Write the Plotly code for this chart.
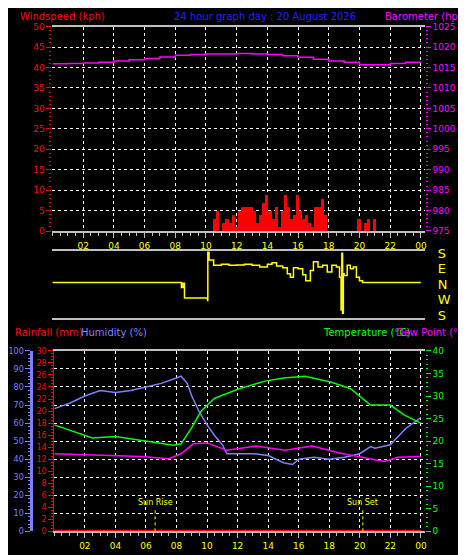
import plotly.graph_objects as go

# barometer, hourly (hpa)
baro_hours = list(range(25))
baro_hpa = [1015.9, 1016.0, 1016.1, 1016.3, 1016.6, 1016.9, 1017.2, 1017.6, 1018.0, 1018.2,
            1018.3, 1018.3, 1018.4, 1018.3, 1018.2, 1017.9, 1017.5, 1017.0, 1016.6, 1016.3,
            1015.7, 1015.7, 1016.0, 1016.3, 1016.4]

# windspeed bars, 0.2 h steps (kph)
wind_hours = [10.6 + 0.2 * i for i in range(37)] + [20.0, 20.2, 20.4, 20.6, 20.8, 21.0]
wind_kph = [3, 5, 0, 2, 3, 2, 4, 1, 5, 6, 6, 6, 6, 5, 2, 4, 7, 9, 5, 3, 6, 1, 5, 9,
            6, 3, 4, 9, 5, 3, 4, 2, 1, 6, 6, 8, 4, 3, 0, 2, 3, 0, 3]

# wind direction (degrees, N = 0, S = +/-180)
dir_hours = [0, 8.3, 8.4, 8.5, 8.6, 8.7, 10.1, 10.12, 10.2, 10.5, 11, 11.5, 12, 12.5, 13,
             13.5, 14, 14.3, 14.6, 15, 15.3, 15.5, 15.7, 16, 16.3, 16.5, 16.8, 17, 17.3,
             17.6, 17.9, 18.2, 18.5, 18.7, 18.8, 18.85, 18.9, 18.95, 19.0, 19.2, 19.4,
             19.6, 19.8, 20.0, 20.2, 24]
dir_deg = [10, 10, -20, 5, -80, -80, -95, 185, 140, 110, 115, 110, 112, 115, 110, 100,
           115, 125, 105, 95, 60, 40, 95, 90, 55, 20, 80, 130, 100, 110, 70, 110, 100,
           40, -150, 180, -170, 60, 50, 110, 90, 100, 40, 20, 10, 10]

# humidity (%)
hum_hours = [0, 1, 2, 3, 4, 5, 6, 7, 8, 8.3, 8.7, 9, 9.5, 10, 10.5, 11, 11.3, 12, 13, 14,
             15, 15.6, 16, 17, 18, 19, 20, 20.7, 21, 22, 23, 24]
hum_pct = [68, 71, 75, 78, 77, 78, 80, 82, 85, 86, 82, 75, 66, 59, 53, 48, 43, 43, 43, 42,
           38, 37, 40, 41, 40, 41, 43, 47, 46, 48, 57, 63]

# temperature and dew point (C)
temp_hours = [0, 1.4, 2.5, 4.0, 5.7, 7.0, 7.8, 8.3, 9.0, 9.6, 10.5, 12.1, 13.8, 15.0,
              16.4, 18.1, 19.4, 20.7, 22.0, 22.9, 24]
temp_c = [23.6, 21.9, 20.7, 21.0, 20.2, 19.6, 19.1, 19.4, 23.0, 26.6, 29.5, 31.6, 33.3,
          34.0, 34.4, 33.1, 31.6, 28.0, 28.0, 25.8, 24.0]
dew_hours = [0, 4.0, 5.7, 7.5, 8.3, 9.1, 10.0, 11.3, 13.2, 15.1, 16.9, 18.6, 20.7, 21.6,
             22.5, 24]
dew_c = [17.2, 16.8, 16.6, 16.1, 17.2, 19.4, 19.6, 18.0, 18.9, 18.0, 18.9, 17.4, 16.0,
         15.5, 16.4, 16.6]

rain_hours = [0, 24]
rain_mm = [0, 0]

tick_hours = list(range(2, 25, 2))
tick_text = ['%02d' % (h % 24) for h in tick_hours]
sun_rise, sun_set = 6.6, 20.2

FONT = 'DejaVu Sans'
fig = go.Figure()
fig.add_trace(go.Scatter(x=baro_hours, y=baro_hpa, mode='lines', line=dict(color='#ff00ff', width=1.5),
                         line_shape='hv', xaxis='x', yaxis='y2'))
fig.add_trace(go.Bar(x=wind_hours, y=wind_kph, width=0.2, marker=dict(color='#ff0000', line_width=0),
                     xaxis='x', yaxis='y'))
fig.add_trace(go.Scatter(x=dir_hours, y=dir_deg, mode='lines', line=dict(color='#ffff00', width=1.5),
                         line_shape='hv', xaxis='x2', yaxis='y3'))
fig.add_trace(go.Scatter(x=rain_hours, y=rain_mm, mode='lines', line=dict(color='#ff0000', width=3),
                         xaxis='x3', yaxis='y4'))
fig.add_trace(go.Scatter(x=hum_hours, y=hum_pct, mode='lines', line=dict(color='#8080ff', width=1.5),
                         xaxis='x3', yaxis='y5'))
fig.add_trace(go.Scatter(x=temp_hours, y=temp_c, mode='lines', line=dict(color='#00ff00', width=1.5),
                         xaxis='x3', yaxis='y6'))
fig.add_trace(go.Scatter(x=dew_hours, y=dew_c, mode='lines', line=dict(color='#ff00ff', width=1.5),
                         xaxis='x3', yaxis='y6'))
for h in (sun_rise, sun_set):
    fig.add_trace(go.Scatter(x=[h, h], y=[0, 3.7], mode='lines',
                             line=dict(color='#ffff00', width=1, dash='dot'), xaxis='x3', yaxis='y4'))

grid = dict(showgrid=True, gridcolor='white', griddash='dot', gridwidth=1)
xbase = dict(range=[0, 24.25], tickvals=tick_hours, ticktext=tick_text, ticks='outside',
             tickcolor='#c0c0c0', ticklen=5, tickfont=dict(color='#ffff00', size=9),
             showline=True, linecolor='#c0c0c0', linewidth=2, mirror=True, zeroline=False,
             minor=dict(ticks='outside', dtick=0.5, ticklen=3, tickcolor='#c0c0c0'), **grid)

fig.update_layout(
    width=466, height=555, margin=dict(l=0, r=0, t=0, b=0),
    paper_bgcolor='black', plot_bgcolor='black', showlegend=False, bargap=0,
    font=dict(family=FONT, size=9),
    xaxis=dict(domain=[0.086, 0.897], anchor='y', **xbase),
    yaxis=dict(domain=[0.600, 0.975], range=[0, 50], dtick=5, ticks='outside', tickcolor='#ff0000',
               tickfont=dict(color='#ff0000', size=9), zeroline=False,
               minor=dict(ticks='outside', dtick=1, ticklen=2, tickcolor='#ff0000'), **grid),
    yaxis2=dict(overlaying='y', side='right', anchor='x', range=[975, 1025], dtick=5,
                ticks='outside', tickcolor='#ff00ff', tickfont=dict(color='#ff00ff', size=9),
                showgrid=False, zeroline=False,
                minor=dict(ticks='outside', dtick=1, ticklen=2, tickcolor='#ff00ff')),
    xaxis2=dict(domain=[0.086, 0.897], anchor='y3', range=[0, 24.25], showticklabels=False,
                showgrid=False, zeroline=False, showline=True, linecolor='#c0c0c0', linewidth=2,
                mirror=True),
    yaxis3=dict(domain=[0.441, 0.564], anchor='x2', side='right', range=[-195, 195],
                tickvals=[180, 90, 0, -90, -180], ticktext=['S', 'E', 'N', 'W', 'S'],
                tickfont=dict(color='#ffff00', size=13), ticklabelstandoff=12,
                showgrid=False, zeroline=False),
    xaxis3=dict(domain=[0.090, 0.897], anchor='y4', **xbase),
    yaxis4=dict(domain=[0.049, 0.380], anchor='x3', range=[0, 30], dtick=2, ticks='outside',
                tickcolor='#ff0000', tickfont=dict(color='#ff0000', size=8), showgrid=False,
                zeroline=False, showline=True, linecolor='#ff0000', linewidth=1,
                minor=dict(ticks='outside', dtick=0.5, ticklen=2, tickcolor='#ff0000')),
    yaxis5=dict(overlaying='y4', anchor='free', position=0.040, side='left', range=[0, 100],
                dtick=10, ticks='outside', tickcolor='#8080ff', tickfont=dict(color='#8080ff', size=8),
                zeroline=False, showline=True, linecolor='#8080ff', linewidth=3,
                minor=dict(ticks='outside', dtick=2, ticklen=2, tickcolor='#8080ff'), **grid),
    yaxis6=dict(overlaying='y4', side='right', anchor='x3', range=[0, 40], dtick=5,
                ticks='outside', tickcolor='#00ff00', tickfont=dict(color='#00ff00', size=9),
                showgrid=False, zeroline=False,
                minor=dict(ticks='outside', dtick=1, ticklen=2, tickcolor='#00ff00')),
)

titles = [
    (0.01, 0.993, 'Windspeed (kph)', '#ff0000', 'left'),
    (0.55, 0.993, '24 hour graph day : 20 August 2026', '#2020ff', 'center'),
    (0.995, 0.993, 'Barometer (hpa)', '#ff00ff', 'right'),
    (0.0, 0.414, 'Rainfall (mm)', '#ff0000', 'left'),
    (0.143, 0.414, 'Humidity (%)', '#8080ff', 'left'),
    (0.67, 0.414, 'Temperature (°C)', '#00ff00', 'left'),
    (0.997, 0.414, 'Dew Point (°C)', '#ff00ff', 'right'),
]
for x, y, text, color, anchor in titles:
    fig.add_annotation(x=x, y=y, xref='paper', yref='paper', text=text, showarrow=False,
                       xanchor=anchor, yanchor='middle', xshift=0,
                       font=dict(color=color, size=10, family=FONT))
for h, text in ((sun_rise, 'Sun Rise'), (sun_set, 'Sun Set')):
    fig.add_annotation(x=h, y=3.7, xref='x3', yref='y4', text=text, showarrow=False,
                       yanchor='bottom', font=dict(color='#ffff00', size=8, family=FONT))

fig.write_html("out.html")
